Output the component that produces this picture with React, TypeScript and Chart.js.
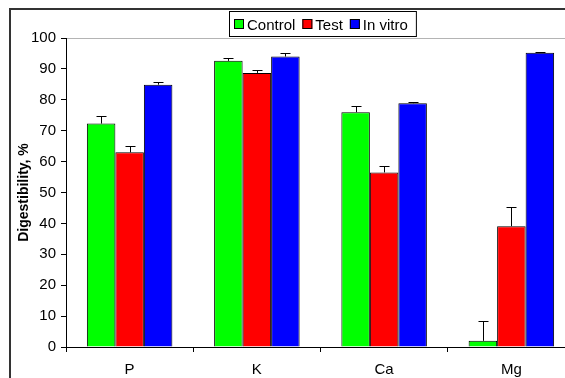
import { useEffect, useRef } from "react";
import { Chart, registerables } from "chart.js";

Chart.register(...registerables);

const categories = ["P", "K", "Ca", "Mg"];
const seriesNames = ["Control", "Test", "In vitro"];
const controlValues = [72.3, 92.6, 76.0, 2.0];
const controlErrors = [2.5, 0.9, 1.9, 6.4];
const testValues = [63.0, 88.7, 56.5, 39.1];
const testErrors = [2.2, 1.0, 2.1, 6.2];
const inVitroValues = [84.9, 94.0, 78.9, 95.2];
const inVitroErrors = [0.7, 1.0, 0.4, 0.2];
const seriesColors = ["#00FF00", "#FF0000", "#0000FF"];
const yMin = 0;
const yMax = 100;
const yStep = 10;
const yTitle = "Digestibility, %";

const FONT = "'Liberation Sans', Arial, sans-serif";

const errorsBySeries = [controlErrors, testErrors, inVitroErrors];

const framePlugin = {
  id: "frame",
  beforeDraw(chart: any) {
    const ctx = chart.ctx;
    ctx.save();
    ctx.fillStyle = "#fff";
    ctx.fillRect(0, 0, chart.width, chart.height);
    ctx.strokeStyle = "#333";
    ctx.lineWidth = 2;
    ctx.beginPath();
    ctx.moveTo(10, chart.height + 10);
    ctx.lineTo(10, 9);
    ctx.lineTo(chart.width + 10, 9);
    ctx.stroke();
    const a = chart.chartArea;
    ctx.strokeStyle = "#b4b4b4";
    ctx.lineWidth = 1;
    ctx.beginPath();
    ctx.moveTo(a.left, Math.round(a.top) + 0.5);
    ctx.lineTo(chart.width, Math.round(a.top) + 0.5);
    ctx.stroke();
    ctx.restore();
  },
};

const errorBarPlugin = {
  id: "errorBars",
  afterDatasetsDraw(chart: any) {
    const ctx = chart.ctx;
    const yScale = chart.scales.y;
    ctx.save();
    ctx.strokeStyle = "#000";
    ctx.lineWidth = 1;
    chart.data.datasets.forEach((ds: any, i: number) => {
      const meta = chart.getDatasetMeta(i);
      const errs = errorsBySeries[i];
      meta.data.forEach((bar: any, j: number) => {
        const v = ds.data[j];
        const top = yScale.getPixelForValue(v + errs[j]);
        const x = Math.round(bar.x) + 0.5;
        const y0 = bar.y;
        const yt = Math.round(top) + 0.5;
        ctx.beginPath();
        ctx.moveTo(x, y0);
        ctx.lineTo(x, yt);
        ctx.moveTo(x - 5, yt);
        ctx.lineTo(x + 5, yt);
        ctx.stroke();
      });
    });
    ctx.restore();
  },
};

const legendPlugin = {
  id: "boxLegend",
  afterDraw(chart: any) {
    const ctx = chart.ctx;
    ctx.save();
    ctx.font = `15px ${FONT}`;
    const sq = 10;
    const gapText = 3;
    const gapItem = 7;
    const padL = 5;
    const padR = 8;
    let total = padL + padR;
    const widths = seriesNames.map((n) => ctx.measureText(n).width);
    widths.forEach((w, i) => {
      total += sq + gapText + w + (i < widths.length - 1 ? gapItem : 0);
    });
    const boxLeft = 229;
    const boxTop = 11;
    const boxH = 25;
    ctx.fillStyle = "#fff";
    ctx.fillRect(boxLeft, boxTop, total, boxH);
    ctx.strokeStyle = "#000";
    ctx.lineWidth = 1;
    ctx.strokeRect(boxLeft + 0.5, boxTop + 0.5, total, boxH);
    let x = boxLeft + padL;
    ctx.textBaseline = "alphabetic";
    ctx.textAlign = "left";
    seriesNames.forEach((n, i) => {
      ctx.fillStyle = seriesColors[i];
      ctx.fillRect(x, 19, sq, sq);
      ctx.strokeStyle = "#000";
      ctx.strokeRect(x + 0.5, 19.5, sq - 1, sq - 1);
      x += sq + gapText;
      ctx.fillStyle = "#000";
      ctx.fillText(n, x, 29.5);
      x += widths[i] + gapItem;
    });
    ctx.restore();
  },
};

export default function App() {
  const ref = useRef<HTMLCanvasElement | null>(null);

  useEffect(() => {
    if (!ref.current) return;
    const values = [controlValues, testValues, inVitroValues];
    const chart = new Chart(ref.current, {
      type: "bar",
      data: {
        labels: categories,
        datasets: seriesNames.map((name, i) => ({
          label: name,
          data: values[i],
          backgroundColor: seriesColors[i],
          borderColor: "#000",
          borderWidth: 1,
          barPercentage: 1,
          categoryPercentage: 0.672,
        })),
      },
      options: {
        responsive: false,
        animation: false,
        devicePixelRatio: 1,
        layout: { padding: { top: 38, right: 5, left: 0, bottom: 0 } },
        plugins: {
          legend: { display: false },
          tooltip: { enabled: false },
        },
        scales: {
          x: {
            grid: {
              offset: true,
              drawOnChartArea: false,
              drawTicks: true,
              tickLength: 5,
              color: "#000",
            },
            border: { color: "#000", width: 1 },
            ticks: {
              color: "#000",
              font: { family: FONT, size: 15 },
              padding: 9,
            },
            afterFit(scale: any) {
              scale.height = 31;
            },
          },
          y: {
            min: yMin,
            max: yMax,
            grid: {
              drawOnChartArea: false,
              drawTicks: true,
              tickLength: 5,
              color: "#000",
            },
            border: { color: "#000", width: 1 },
            ticks: {
              stepSize: yStep,
              color: "#000",
              font: { family: FONT, size: 15 },
              padding: 5,
            },
            title: {
              display: true,
              text: yTitle,
              color: "#000",
              font: { family: FONT, size: 14, weight: "bold" },
              padding: { top: 16, bottom: 0 },
            },
            afterFit(scale: any) {
              scale.width = 66;
            },
          },
        },
      },
      plugins: [framePlugin, errorBarPlugin, legendPlugin],
    });
    return () => chart.destroy();
  }, []);

  return (
    <div
      style={{
        position: "fixed",
        left: 0,
        top: 0,
        width: 565,
        height: 378,
        overflow: "hidden",
        background: "#fff",
      }}
    >
      <canvas ref={ref} width={580} height={378} style={{ display: "block" }} />
    </div>
  );
}
